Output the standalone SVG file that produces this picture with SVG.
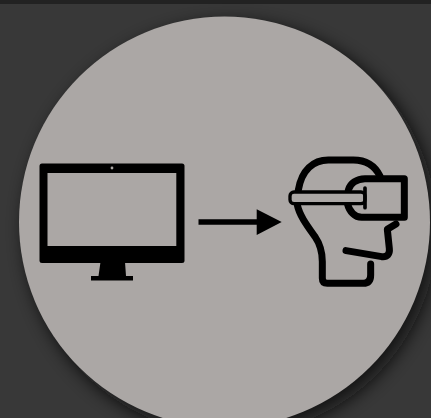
<svg xmlns="http://www.w3.org/2000/svg" width="431" height="418" viewBox="0 0 431 418">
<style>
.ink{fill:#000}
.line{fill:none;stroke:#000;stroke-linecap:round;stroke-linejoin:round}
</style>
<defs>
<filter id="blur" x="-20%" y="-20%" width="140%" height="140%"><feGaussianBlur stdDeviation="9"/></filter>
</defs>
<rect width="431" height="418" fill="#383838"/>
<rect width="431" height="4" fill="#222"/>
<circle cx="231" cy="229" r="206" fill="#0c0c0c" opacity=".85" filter="url(#blur)"/>
<circle cx="224.500" cy="222" r="205.500" fill="#aba7a5"/>
<g id="monitor">
<rect class="ink" x="39.500" y="163.500" width="145" height="99.500" rx="2.500"/>
<rect x="47.500" y="173" width="128.800" height="73" fill="#aba7a5"/>
<circle cx="112" cy="168" r="1.400" fill="#aba7a5"/>
<path class="ink" d="M100.500 262H125L126 276H133V280.500H91V276H98.500Z"/>
</g>
<g id="connectors">
<path class="ink" d="M198.500 219.300H256.700V209.300L281.700 222L256.700 235V224.700H198.500Z"/>
</g>
<g id="vr-head" transform="translate(270 140) scale(.3333)">
<path class="line" stroke-width="21" d="M330 108C315 78 290 60 250 60H175C130 60 95 90 85 150M82 195C88 225 110 255 135 290C152 315 157 335 157 365V415Q157 430 172 430H280Q302 430 302 405V372"/>
<path class="line" stroke-width="21" d="M228 332L335 350C352 352 360 342 358 325L352 268L378 252"/>
<path class="line" stroke-width="21" d="M235 150C240 130 260 116 285 116H403V232H275C255 232 238 215 232 190"/>
<rect x="60" y="156" width="225" height="35" rx="12" fill="#aba7a5" stroke="#000" stroke-width="10"/>
<path class="line" stroke-width="11" stroke-linecap="butt" d="M285 144V203"/>
</g>
</svg>
